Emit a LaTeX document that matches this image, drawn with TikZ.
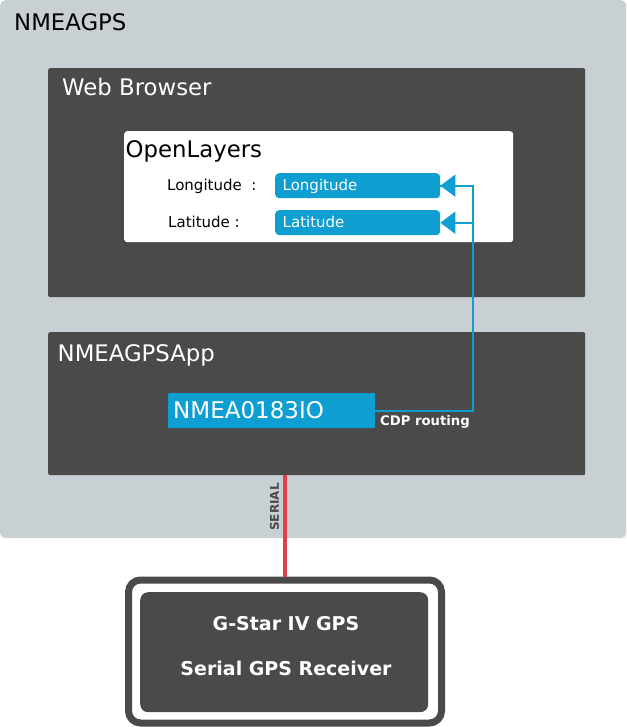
\documentclass[tikz,border=0pt]{standalone}
\usepackage{fontspec}
\setmainfont{DejaVu Sans}
\usetikzlibrary{arrows.meta}
\definecolor{paneGray}{HTML}{C8D0D3}
\definecolor{boxDark}{HTML}{4A4A4A}
\definecolor{cdpBlue}{HTML}{0E9ED2}
\definecolor{serialRed}{HTML}{E23F4C}
\tikzset{
  area/.style={anchor=north west, inner sep=0pt, draw=none},
  title/.style={anchor=base west, inner sep=0pt, font=\fontsize{22.8}{27}\selectfont},
  field/.style={anchor=base west, inner sep=0pt, font=\fontsize{15}{18}\selectfont},
  bold/.style={inner sep=0pt, font=\bfseries\fontsize{13.2}{15}\selectfont},
  route/.style={draw=cdpBlue, line width=2pt},
}
\begin{document}
\begin{tikzpicture}[x=1pt, y=-1pt]
      \useasboundingbox (0,0) rectangle (626,727);
      \node[area, fill=paneGray, rounded corners=5pt, minimum width=626pt, minimum height=538pt] (nmeagps) at (0,0) {};
      \node[title] (nmeagpsT) at (14,31) {NMEAGPS};
      \node[area, fill=boxDark, rounded corners=2pt, minimum width=537pt, minimum height=229pt] (browser) at (48,68) {};
      \node[title, white] (browserT) at (62,95.5) {Web Browser};
      \node[area, fill=white, rounded corners=3pt, minimum width=389pt, minimum height=111pt] (layers) at (124,131) {};
      \node[title] (layersT) at (125.5,157.5) {OpenLayers};
      \node[field] (lonT) at (167,191) {Longitude \ :};
      \node[field] (latT) at (168,227.5) {Latitude :};
      \node[area, fill=cdpBlue, rounded corners=4pt, minimum width=165pt, minimum height=25pt] (lonbox) at (275,173) {};
      \node[area, fill=cdpBlue, rounded corners=4pt, minimum width=165pt, minimum height=25pt] (latbox) at (275,210) {};
      \node[field, white] (lonV) at (282.5,191) {Longitude};
      \node[field, white] (latV) at (282.5,227.5) {Latitude};
      \node[area, fill=boxDark, rounded corners=2pt, minimum width=537pt, minimum height=143pt] (app) at (48,332) {};
      \node[title, white] (appT) at (57.5,361.5) {NMEAGPSApp};
      \node[area, fill=cdpBlue, rounded corners=1pt, minimum width=207pt, minimum height=35pt] (io) at (168,393) {};
      \node[title, white, font=\fontsize{23}{27}\selectfont] (ioT) at (173,418) {NMEA0183IO};
      \node[bold, white, anchor=base west] (cdp) at (380,425) {CDP routing};
      \node[draw=boxDark, line width=7pt, fill=white, rounded corners=12pt, minimum width=313pt, minimum height=143pt] (gps) at (285,651.5) {};
      \node[area, fill=boxDark, rounded corners=8pt, minimum width=288pt, minimum height=120pt] (receiver) at (140,592) {};
      \node[bold, white, font=\bfseries\fontsize{19}{22}\selectfont, anchor=base] (gpsT) at (286,630) {G-Star IV GPS};
      \node[bold, white, font=\bfseries\fontsize{19}{22}\selectfont, anchor=base] (gpsS) at (286,675.5) {Serial GPS Receiver};
      \coordinate (rail) at (472.5,0);
      \begin{scope}[route]
        \draw (io.east) -| (rail |- lonbox.east) -- (lonbox.east);
        \draw[-{Triangle[length=15pt,width=22pt]}] (rail |- lonbox.east) -- (lonbox.east);
        \draw[-{Triangle[length=15pt,width=22pt]}] (rail |- latbox.east) -- (latbox.east);
      \end{scope}
      \draw[serialRed, line width=4pt] (gps.north) -- (gps.north |- app.south);
      \node[bold, boxDark, font=\bfseries\fontsize{12}{14}\selectfont, rotate=90] (serial) at (274.5,507) {SERIAL};
    \end{tikzpicture}
\end{document}
